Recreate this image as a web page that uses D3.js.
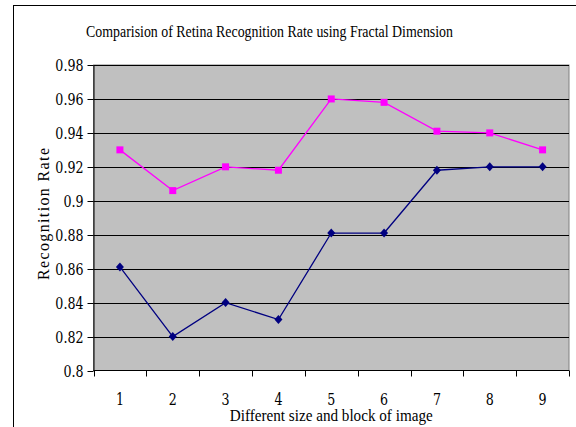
<!DOCTYPE html>
<html><head><meta charset="utf-8">
<script src="https://cdn.jsdelivr.net/npm/d3@7"></script>
<style>body{margin:0;background:#fff}svg{display:block}text{fill:#000}</style>
</head><body>
<svg id="c" width="576" height="427"></svg>
<script>
const categories = ["1","2","3","4","5","6","7","8","9"];
const seriesPink = [0.930, 0.906, 0.920, 0.918, 0.960, 0.958, 0.941, 0.940, 0.930];
const seriesBlue = [0.861, 0.820, 0.840, 0.830, 0.881, 0.881, 0.918, 0.920, 0.920];
const yTicks = [0.8, 0.82, 0.84, 0.86, 0.88, 0.9, 0.92, 0.94, 0.96, 0.98];
const yTickLabels = ["0.8","0.82","0.84","0.86","0.88","0.9","0.92","0.94","0.96","0.98"];
const title = "Comparision of Retina Recognition Rate using Fractal Dimension";
const xTitle = "Different size and block of image";
const yTitle = "Recognition Rate";

const svg = d3.select("#c");
const L = 93.5, R = 569, T = 65, B = 370.5;
const FF = '"Liberation Serif", "Times New Roman", serif';
const FN = '"DejaVu Serif", serif';

function squeeze(sel, k){
  sel.each(function(){
    const w = this.getComputedTextLength();
    d3.select(this).attr("textLength", w*k).attr("lengthAdjust","spacingAndGlyphs");
  });
}

svg.append("rect").attr("x",13.5).attr("y",5.5).attr("width",600).attr("height",500)
  .attr("fill","#fff").attr("stroke","#000").attr("stroke-width",1);

const x = d3.scaleBand().domain(categories).range([L, R]);
const y = d3.scaleLinear().domain([0.8, 0.98]).range([B, T]);

svg.append("rect").attr("x",L).attr("y",T).attr("width",R-L).attr("height",B-T)
  .attr("fill","#c0c0c0").attr("stroke","#808080").attr("stroke-width",1);

svg.append("g").selectAll("line").data(yTicks.slice(1)).join("line")
  .attr("x1",L).attr("x2",R).attr("y1",d=>Math.round(y(d))+0.5).attr("y2",d=>Math.round(y(d))+0.5)
  .attr("stroke","#000").attr("stroke-width",1);

const ya = svg.append("g").attr("transform",`translate(${L},0)`)
  .call(d3.axisLeft(y).tickValues(yTicks).tickFormat((d,i)=>yTickLabels[i]).tickSize(6).tickSizeOuter(0).tickPadding(4));
ya.attr("font-family",FN).attr("font-size",16);
ya.select(".domain").attr("stroke","#000");
ya.selectAll("line").attr("stroke","#000");
ya.selectAll(".tick").attr("transform",d=>`translate(0,${Math.round(y(d))+0.5})`);
ya.selectAll("text").attr("fill","#000").attr("dy","0.36em");
squeeze(ya.selectAll("text"), 0.79);

const xa = svg.append("g").attr("transform",`translate(0,${B})`);
xa.append("line").attr("x1",L).attr("x2",R).attr("stroke","#000");
const edges = categories.map(c=>x(c)).concat([R]);
xa.selectAll("line.t").data(edges).join("line").attr("class","t")
  .attr("x1",d=>Math.round(d)+0.5).attr("x2",d=>Math.round(d)+0.5).attr("y1",0).attr("y2",6).attr("stroke","#000");
const xt = xa.selectAll("text").data(categories).join("text")
  .attr("x",d=>x(d)+x.bandwidth()/2).attr("y",34).attr("text-anchor","middle")
  .attr("font-family",FN).attr("font-size",16).text(d=>d);
squeeze(xt, 0.79);

svg.append("text").attr("x",269.5).attr("y",37).attr("text-anchor","middle").attr("font-family",FF)
  .attr("textLength",367).attr("lengthAdjust","spacingAndGlyphs").attr("font-size",17).text(title);
svg.append("text").attr("x",(L+R)/2).attr("y",421).attr("text-anchor","middle").attr("font-family",FF)
  .attr("textLength",203).attr("lengthAdjust","spacingAndGlyphs").attr("font-size",16).text(xTitle);
svg.append("text").attr("transform","translate(49,214) rotate(-90)").attr("text-anchor","middle").attr("font-family",FF)
  .attr("textLength",132).attr("lengthAdjust","spacing").attr("font-size",16).text(yTitle);

const cx = d => x(d) + x.bandwidth()/2;
const line = d3.line().x((v,i)=>cx(categories[i])).y(v=>y(v));

svg.append("path").datum(seriesPink).attr("d",line).attr("fill","none").attr("stroke","#ff00ff").attr("stroke-width",1.3);
svg.append("g").selectAll("rect").data(seriesPink).join("rect")
  .attr("x",(v,i)=>cx(categories[i])-3.5).attr("y",v=>y(v)-3.5).attr("width",7).attr("height",7).attr("fill","#ff00ff");

svg.append("path").datum(seriesBlue).attr("d",line).attr("fill","none").attr("stroke","#000080").attr("stroke-width",1.3);
svg.append("g").selectAll("path").data(seriesBlue).join("path")
  .attr("d",(v,i)=>{const px=cx(categories[i]),py=y(v);return `M${px},${py-4.5}L${px+4},${py}L${px},${py+4.5}L${px-4},${py}Z`;})
  .attr("fill","#000080");
</script>
</body></html>
